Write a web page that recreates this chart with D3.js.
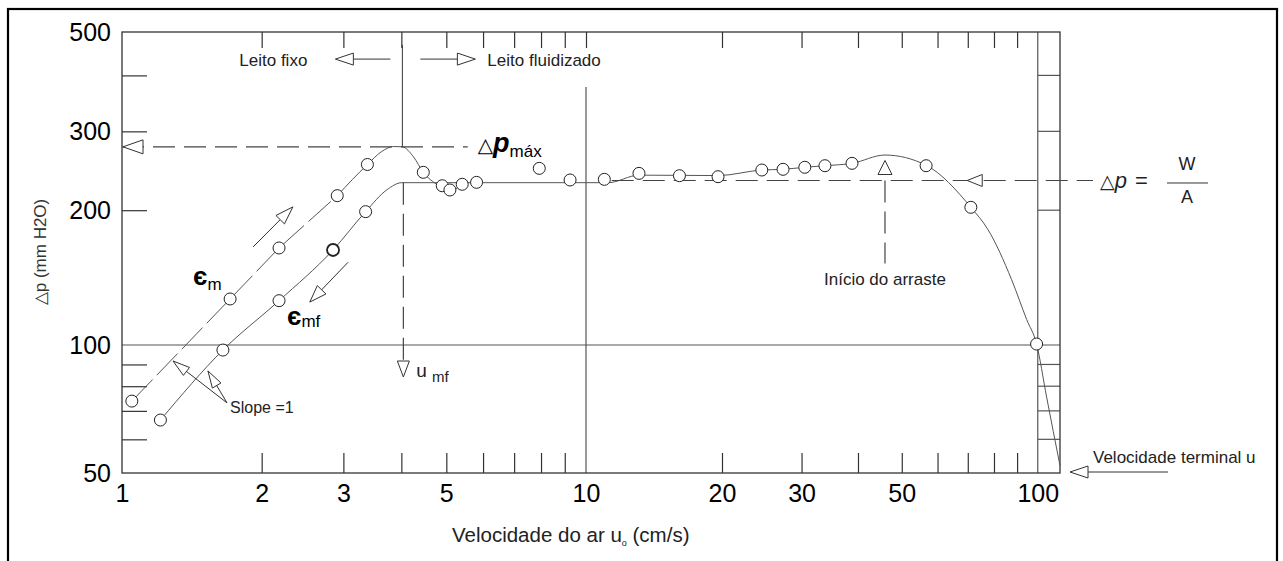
<!DOCTYPE html>
<html>
<head>
<meta charset="utf-8">
<script src="https://cdn.jsdelivr.net/npm/d3@7"></script>
<style>
  body { margin: 0; background: #fff; }
  svg { display: block; font-family: "Liberation Sans", Arial, sans-serif; }
</style>
</head>
<body>
<svg id="chart" width="1283" height="561"></svg>
<script>
// pontos medidos: [u (cm/s), Δp (mm H2O)]
const subida = [[1.05, 73.8], [1.71, 126.7], [2.18, 164.7], [2.91, 215.5], [3.38, 253], [4.46, 243]]
const descida = [[1.21, 66.6], [1.65, 97.3], [2.18, 125.6], [2.85, 163], [3.35, 198.5]]
const fluidizado = [[4.90, 226.8], [5.09, 221.9], [5.41, 228.5], [5.81, 230.8], [7.93, 248], [9.24, 233.6],
  [10.98, 234.4], [13.1, 241.7], [16.1, 238.8], [19.6, 237.6], [24.5, 245.9], [27.3, 246.8], [30.5, 249.4],
  [33.8, 251.4], [38.8, 254.5], [56.6, 251.4], [71.1, 203], [99.4, 100.5]]

// curvas desenhadas a mao no original
const curvaSubidaTrac = [[1.05, 73.8], [1.71, 126.7], [2.18, 164.7], [2.91, 215.5]]
const curvaSubida = [[2.91, 215.5], [3.38, 253], [3.62, 270], [3.85, 277.5], [4.02, 277], [4.25, 263],
  [4.46, 243], [4.8, 227], [5.08, 217.5], [5.3, 225], [5.55, 230.4]]
const curvaDescida = [[1.21, 66.6], [1.65, 97.3], [2.18, 125.6], [2.85, 163], [3.35, 198.5], [3.72, 222],
  [4.01, 230.4], [11.2, 230.4], [13.1, 239.5], [19.6, 239], [24.5, 245.9], [27.3, 246.8], [30.5, 249.4],
  [33.8, 251.4], [38.8, 254.5], [45.9, 265.6], [56.6, 252], [71.1, 203], [77.6, 181], [87.5, 140],
  [94.5, 114], [99.4, 100.5], [104.6, 75.5], [112, 52]]

// eixos
const xLabels = [1, 2, 3, 5, 10, 20, 30, 50, 100]
const xMinor = [2, 3, 4, 5, 6, 7, 8, 9, 20, 30, 40, 50, 60, 70, 80, 90]
const yLabels = [50, 100, 200, 300, 500]
const yMinor = [60, 70, 80, 90, 200, 300, 400]

// valores caracteristicos
const uMf = 4.02
const dpMax = 277
const dpLeito = 230.4
const dpWA = 233
const uArraste = 45.9

const svg = d3.select('#chart')
const x = d3.scaleLog().domain([1, 10, 112]).range([122, 586, 1060])
const y = d3.scaleLog().domain([50, 100, 500]).range([473, 345, 32]).clamp(true)
const x0 = x(1), x1 = x(112), yb = y(50), yt = y(500)

const ink = '#222'
const cinza = '#555'

// moldura externa (aberta embaixo)
svg.append('rect')
  .attr('x', 8).attr('y', 9).attr('width', 1269).attr('height', 640)
  .attr('fill', 'none').attr('stroke', '#000').attr('stroke-width', 2.2)

const g = svg.append('g')

// linhas de grade
g.append('line').attr('x1', x0).attr('x2', x1).attr('y1', y(100)).attr('y2', y(100))
  .attr('stroke', cinza).attr('stroke-width', 1.2)
g.append('line').attr('x1', x(10)).attr('x2', x(10)).attr('y1', y(377)).attr('y2', yb)
  .attr('stroke', cinza).attr('stroke-width', 1.2)
g.append('line').attr('x1', x(100)).attr('x2', x(100)).attr('y1', yt).attr('y2', yb)
  .attr('stroke', cinza).attr('stroke-width', 1.2)
g.selectAll('.rt').data(yMinor).join('line')
  .attr('x1', x(100)).attr('x2', x1).attr('y1', d => y(d)).attr('y2', d => y(d))
  .attr('stroke', cinza).attr('stroke-width', 1.2)

// eixos
const estilo = sel => {
  sel.select('.domain').remove()
  sel.selectAll('line').attr('stroke', '#333').attr('stroke-width', 1.2)
  sel.selectAll('text').attr('fill', '#000')
  sel.attr('font-family', null).attr('font-size', 25)
}
g.append('g').attr('transform', `translate(0,${yb})`)
  .call(d3.axisBottom(x).tickValues(xMinor).tickSize(-20).tickFormat('')).call(estilo)
g.append('g').attr('transform', `translate(0,${yb})`)
  .call(d3.axisBottom(x).tickValues(xLabels).tickSize(0).tickPadding(11).tickFormat(d3.format('d'))).call(estilo)
g.append('g').attr('transform', `translate(0,${yt})`)
  .call(d3.axisTop(x).tickValues(xMinor.concat([10])).tickSize(-16).tickFormat('')).call(estilo)
g.append('g').attr('transform', `translate(${x0},0)`)
  .call(d3.axisLeft(y).tickValues(yMinor).tickSize(-25).tickFormat('')).call(estilo)
g.append('g').attr('transform', `translate(${x0},0)`)
  .call(d3.axisLeft(y).tickValues(yLabels).tickSize(0).tickPadding(11).tickFormat(d3.format('d'))).call(estilo)

g.append('rect').attr('x', x0).attr('y', yt).attr('width', x1 - x0).attr('height', yb - yt)
  .attr('fill', 'none').attr('stroke', '#333').attr('stroke-width', 1.3)

// curvas
const linha = d3.line().x(d => x(d[0])).y(d => y(d[1]))
const suave = d3.line().x(d => x(d[0])).y(d => y(d[1])).curve(d3.curveMonotoneX)
g.append('path').attr('d', linha(curvaSubidaTrac)).attr('fill', 'none')
  .attr('stroke', cinza).attr('stroke-dasharray', '30,6')
g.append('path').attr('d', suave(curvaSubida)).attr('fill', 'none').attr('stroke', cinza)
g.append('path').attr('d', suave(curvaDescida)).attr('fill', 'none').attr('stroke', cinza)

// linhas tracejadas de referencia
const trac = (xa, ya, xb, yb2) => g.append('line')
  .attr('x1', xa).attr('y1', ya).attr('x2', xb).attr('y2', yb2)
  .attr('stroke', '#444').attr('stroke-width', 1.2).attr('stroke-dasharray', '22,9')
const reta = (xa, ya, xb, yb2) => g.append('line')
  .attr('x1', xa).attr('y1', ya).attr('x2', xb).attr('y2', yb2)
  .attr('stroke', '#333').attr('stroke-width', 1)
function seta (px, py, ang, len, half) {
  const bx = px - Math.cos(ang) * len
  const by = py - Math.sin(ang) * len
  const nx = -Math.sin(ang) * half
  const ny = Math.cos(ang) * half
  g.append('path').attr('d', `M${px},${py}L${bx + nx},${by + ny}L${bx - nx},${by - ny}Z`)
    .attr('fill', '#fff').attr('stroke', '#333').attr('stroke-width', 1)
}
const texto = (px, py, s, size) => g.append('text').attr('x', px).attr('y', py)
  .attr('font-size', size).attr('fill', ink).text(s)

// Δp max
const xFimMax = x(5.56)
trac(x0, y(dpMax), xFimMax, y(dpMax))
seta(x0 + 1, y(dpMax), Math.PI, 20, 7)
const tMax = g.append('text').attr('x', xFimMax + 10).attr('y', y(dpMax) + 5).attr('fill', '#000')
tMax.append('tspan').attr('font-size', 20).attr('font-family', 'DejaVu Sans').text('△')
tMax.append('tspan').attr('font-size', 27).attr('font-weight', 'bold').attr('font-style', 'italic').text('p')
tMax.append('tspan').attr('font-size', 17).attr('dy', 5).text('máx')

// leito fixo / fluidizado
const xs = x(uMf)
const yLeito = y(435)
reta(xs, y(468), xs, y(dpMax))
reta(xs - 12, yLeito, xs - 49, yLeito)
seta(xs - 67, yLeito, Math.PI, 18, 6)
texto(xs - 95, yLeito + 7, 'Leito fixo', 17).attr('text-anchor', 'end')
reta(xs + 18, yLeito, xs + 55, yLeito)
seta(xs + 73, yLeito, 0, 18, 6)
texto(xs + 85, yLeito + 7, 'Leito fluidizado', 17)

// u_mf
trac(xs + 1, y(dpLeito), xs + 1, y(91.7))
seta(xs + 1, y(91.7) + 16, Math.PI / 2, 16, 6)
const tU = g.append('text').attr('x', xs + 14).attr('y', y(91.7) + 16).attr('fill', ink)
tU.append('tspan').attr('font-size', 19).text('u')
tU.append('tspan').attr('font-size', 15).attr('dx', 5).attr('dy', 5).text('mf')

// Δp = W/A
trac(x(11.4), y(dpWA), x1 + 33, y(dpWA))
seta(x(69.8), y(dpWA), Math.PI, 15, 6)
const yw = y(dpWA)
const tW = g.append('text').attr('x', x1 + 40).attr('y', yw + 8).attr('fill', ink)
tW.append('tspan').attr('font-size', 19).attr('font-family', 'DejaVu Sans').text('△')
tW.append('tspan').attr('font-size', 22).attr('font-style', 'italic').text('p')
tW.append('tspan').attr('font-size', 22).attr('dx', 8).text('=')
reta(x1 + 107, yw + 2.5, x1 + 148, yw + 2.5)
texto(x1 + 127, yw - 10, 'W', 18).attr('text-anchor', 'middle')
texto(x1 + 127, yw + 23, 'A', 18).attr('text-anchor', 'middle')

// inicio do arraste
const xa = x(uArraste)
seta(xa, yw - 20, -Math.PI / 2, 14, 7)
trac(xa, yw, xa, yw + 83)
texto(xa, yw + 105, 'Início do arraste', 17).attr('text-anchor', 'middle')

// velocidade terminal
reta(x1 + 28, yb - 1, x1 + 108, yb - 1)
seta(x1 + 10, yb - 1, Math.PI, 18, 6)
texto(x1 + 33, yb - 10, 'Velocidade terminal u', 17)

// setas de sentido e slope
const notas = {
  sobe: [[1.917, 165.6], [2.335, 203.4]],
  desce: [[3.07, 153], [2.54, 124.7]],
  slope: [1.684, 73.1],
  slopeA: [1.288, 91.7],
  slopeB: [1.532, 86.9]
}
const P = d => [x(d[0]), y(d[1])]
const ang = (a, b) => Math.atan2(b[1] - a[1], b[0] - a[0])
{
  const [a, b] = notas.sobe.map(P)
  reta(a[0], a[1], b[0], b[1]); seta(b[0], b[1], ang(a, b), 18, 6)
}
{
  const [a, b] = notas.desce.map(P)
  reta(a[0], a[1], b[0], b[1]); seta(b[0], b[1], ang(a, b), 17, 6)
}
{
  const s = P(notas.slope)
  for (const t of [P(notas.slopeA), P(notas.slopeB)]) {
    reta(s[0], s[1], t[0], t[1])
    seta(t[0], t[1], ang(s, t), 17, 5)
  }
  texto(s[0] + 3, s[1] + 10, 'Slope =1', 16)
}

// epsilon
const tEm = g.append('text').attr('x', x(1.423)).attr('y', y(136)).attr('fill', '#000')
tEm.append('tspan').attr('font-size', 26).attr('font-weight', 'bold').text('є')
tEm.append('tspan').attr('font-size', 17).attr('dy', 5).text('m')
const tEmf = g.append('text').attr('x', x(2.268)).attr('y', y(110.8)).attr('fill', '#000')
tEmf.append('tspan').attr('font-size', 26).attr('font-weight', 'bold').text('є')
tEmf.append('tspan').attr('font-size', 17).attr('dy', 2).text('mf')

// pontos
const todos = subida.concat(descida, fluidizado)
g.selectAll('.pt').data(todos).join('circle')
  .attr('cx', d => x(d[0])).attr('cy', d => y(d[1])).attr('r', 6)
  .attr('fill', '#fff').attr('stroke', '#222')
  .attr('stroke-width', d => (d[0] === 2.85 ? 1.8 : 1))

// titulos dos eixos
const tx = svg.append('text').attr('x', x0 + 330).attr('y', 542)
  .attr('font-size', 20.5).attr('fill', ink)
tx.append('tspan').text('Velocidade do ar u')
tx.append('tspan').attr('font-size', 9).attr('dy', 4).text('o')
tx.append('tspan').attr('dy', -4).text('  (cm/s)')
svg.append('text').attr('transform', 'translate(46,252) rotate(-90)')
  .attr('text-anchor', 'middle').attr('font-size', 17).attr('fill', '#333')
  .text('△p (mm H2O)')
</script>
</body>
</html>
